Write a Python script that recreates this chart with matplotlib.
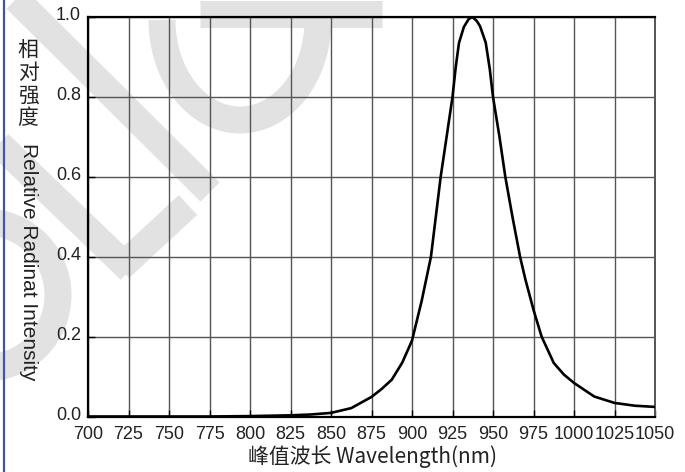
import numpy as np
import matplotlib
matplotlib.use('Agg')
import matplotlib.pyplot as plt
from matplotlib.lines import Line2D
from matplotlib.patches import Arc
from matplotlib.transforms import ScaledTranslation

plt.rcParams['font.family'] = ['Liberation Sans', 'Noto Sans CJK SC', 'DejaVu Sans']

# spectrum
wavelength = [700, 725, 750, 775, 800, 812.5, 825, 837.5, 850, 862.5, 875, 881, 887.5, 894,
              900, 906, 911.7, 915, 917.7, 921, 925, 927, 929, 932, 935, 937.3, 940, 942,
              945.5, 948, 950, 954, 957.6, 962, 966.7, 970, 975, 980, 987.5, 993.75,
              1000, 1012.5, 1025, 1037.5, 1050]
intensity = [0.0, 0.0, 0.0, 0.0, 0.001, 0.002, 0.003, 0.005, 0.009, 0.021, 0.049, 0.068, 0.092, 0.135,
             0.19, 0.29, 0.40, 0.51, 0.60, 0.69, 0.80, 0.875, 0.935, 0.975, 0.995, 1.0, 0.99, 0.977,
             0.936, 0.87, 0.80, 0.70, 0.60, 0.50, 0.40, 0.343, 0.267, 0.20, 0.134, 0.105,
             0.084, 0.05, 0.034, 0.027, 0.024]
x_ticks = [700, 725, 750, 775, 800, 825, 850, 875, 900, 925, 950, 975, 1000, 1025, 1050]
y_ticks = [0.0, 0.2, 0.4, 0.6, 0.8, 1.0]

W, H = 685, 472
fig = plt.figure(figsize=(W / 100, H / 100), dpi=100)
fig.patch.set_facecolor('white')


def px(x, y):
    return x / W, 1 - y / H


# faint watermark behind the plot
wm = '#e2e2e2'
wm_lw = 27 * 0.72
for (x0, y0), (x1, y1) in [((12, -5), (210, 192)),
                           ((-5, 140), (130, 270)),
                           ((120, 268), (188, 205)),
                           ((200, 14), (382, 14))]:
    a, b = px(x0, y0)
    c, d = px(x1, y1)
    fig.add_artist(Line2D([a, c], [b, d], color=wm, lw=wm_lw, solid_capstyle='butt',
                          transform=fig.transFigure, zorder=0))
fig.add_artist(Arc(px(-15, 295), 146 / W, 146 / H, theta1=-90, theta2=90, color=wm,
                   lw=wm_lw, transform=fig.transFigure, zorder=0))
fig.add_artist(Arc(px(240, 20), 156 / W, 200 / H, theta1=180, theta2=360, color=wm,
                   lw=wm_lw, transform=fig.transFigure, zorder=0))

# blue page border on the left
fig.add_artist(Line2D([3.5 / W, 3.5 / W], [0, 1], color='#4352b0', lw=1.6,
                      transform=fig.transFigure, zorder=5))

ax = fig.add_axes([88 / W, 1 - 416.5 / H, (655 - 88) / W, (416.5 - 17) / H])
ax.set_facecolor('none')
ax.set_zorder(1)

ax.plot(wavelength, intensity, color='black', lw=1.9, zorder=3,
        solid_joinstyle='round')

ax.set_xlim(700, 1050)
ax.set_ylim(0, 1.0)
ax.set_xticks(x_ticks)
ax.set_yticks(y_ticks)
ax.set_xticklabels([str(v) for v in x_ticks])
ax.set_yticklabels(['%.1f' % v for v in y_ticks])
ax.grid(True, color='#555555', lw=1.0)
ax.tick_params(direction='in', length=5, width=1.0, color='black', labelsize=13,
               labelcolor='#222222')
ax.tick_params(axis='x', pad=7)
ax.tick_params(axis='y', pad=5)
# y labels sit a little above their grid lines in the original
shift = ScaledTranslation(0, 2.5 / 72, fig.dpi_scale_trans)
for lab in ax.get_yticklabels():
    lab.set_transform(lab.get_transform() + shift)
for side in ['top', 'left', 'bottom']:
    ax.spines[side].set_linewidth(1.6)
    ax.spines[side].set_color('black')
ax.spines['right'].set_linewidth(1.4)
ax.spines['right'].set_color('#555555')

# axis titles
fig.text(28 / W, 1 - 84 / H, '相\n对\n强\n度', ha='center', va='center', fontsize=15,
         family=['Noto Sans CJK SC'], linespacing=1.05, color='#222222')
fig.text(28 / W, 1 - 262 / H, 'Relative Radinat Intensity', ha='center', va='center',
         rotation=-90, fontsize=15, color='#222222')
fig.text(372 / W, 1 - 457 / H, '峰值波长 Wavelength(nm)', ha='center', va='center',
         fontsize=15, family=['Noto Sans CJK SC', 'DejaVu Sans'], color='#222222')

fig.savefig('out.png', dpi=100, facecolor='white')
